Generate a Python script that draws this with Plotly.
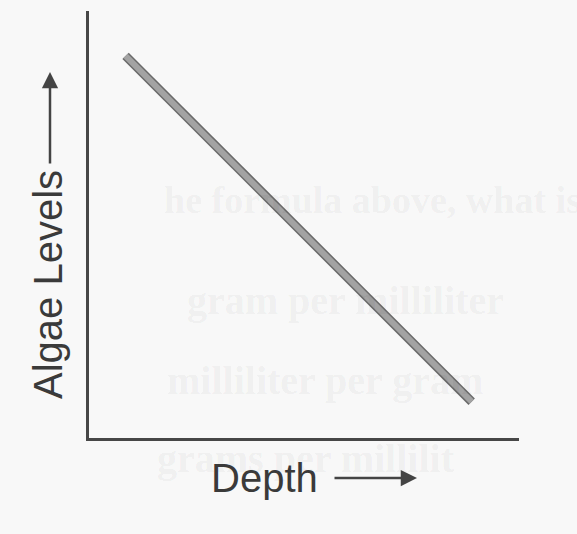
import plotly.graph_objects as go

# Data (conceptual: algae levels decrease with depth)
depth = [0.85, 8.9]
algae = [8.95, 0.85]

x_title = "Depth"
y_title = "Algae Levels"

# faint bleed-through text from the scanned page
bleed_lines = ["he formula above, what is th", "gram per milliliter",
               "milliliter per gram", "grams per millilit"]

BG = "#f8f8f8"
INK = "#3a3a3a"

fig = go.Figure()
fig.add_trace(go.Scatter(x=depth, y=algae, mode="lines",
                         line=dict(color="#6a6a6a", width=9), hoverinfo="skip"))
fig.add_trace(go.Scatter(x=depth, y=algae, mode="lines",
                         line=dict(color="#a3a3a3", width=6), hoverinfo="skip"))

# plot area pixels: x 89..519, y 11..438
L, R, T, B = 89, 519, 11, 438
def px(x):
    return (x - L) / (R - L)
def py(y):
    return (B - y) / (B - T)

annotations = []
bleed_pos = [(162, 200), (185, 300), (165, 380), (155, 458)]
bleed_size = [38, 40, 40, 40]
for txt, (bx, by), fs in zip(bleed_lines, bleed_pos, bleed_size):
    annotations.append(dict(text=txt, xref="paper", yref="paper", x=px(bx), y=py(by),
                            xanchor="left", yanchor="middle", showarrow=False,
                            font=dict(family="Liberation Serif", size=fs,
                                      color="rgba(0,0,0,0.055)", weight="bold")))

annotations += [
    dict(text=y_title, xref="paper", yref="paper", x=px(48), y=py(285),
         textangle=-90, showarrow=False, xanchor="center", yanchor="middle",
         font=dict(family="Liberation Sans", size=40, color=INK)),
    dict(text="", xref="paper", yref="paper", x=px(50), y=py(72), ax=0, ay=93,
         showarrow=True, arrowhead=2, arrowsize=1.3, arrowwidth=2.5, arrowcolor="#444"),
    dict(text=x_title, xref="paper", yref="paper", x=px(264), y=py(478),
         showarrow=False, xanchor="center", yanchor="middle",
         font=dict(family="Liberation Sans", size=40, color=INK)),
    dict(text="", xref="paper", yref="paper", x=px(417), y=py(478), ax=-84, ay=0,
         showarrow=True, arrowhead=2, arrowsize=1.3, arrowwidth=2.5, arrowcolor="#444"),
]

fig.update_layout(
    width=577, height=534,
    margin=dict(l=L, r=577 - R, t=T, b=534 - B),
    paper_bgcolor=BG, plot_bgcolor=BG,
    showlegend=False,
    annotations=annotations,
    xaxis=dict(range=[0, 10], showgrid=False, zeroline=False, showticklabels=False,
               ticks="", showline=True, linecolor="#474747", linewidth=3, fixedrange=True),
    yaxis=dict(range=[0, 10], showgrid=False, zeroline=False, showticklabels=False,
               ticks="", showline=True, linecolor="#474747", linewidth=3, fixedrange=True),
)

fig.write_html("out.html", config={"displayModeBar": False},
               post_script="document.body.style.margin='0';document.body.style.overflow='hidden';")
